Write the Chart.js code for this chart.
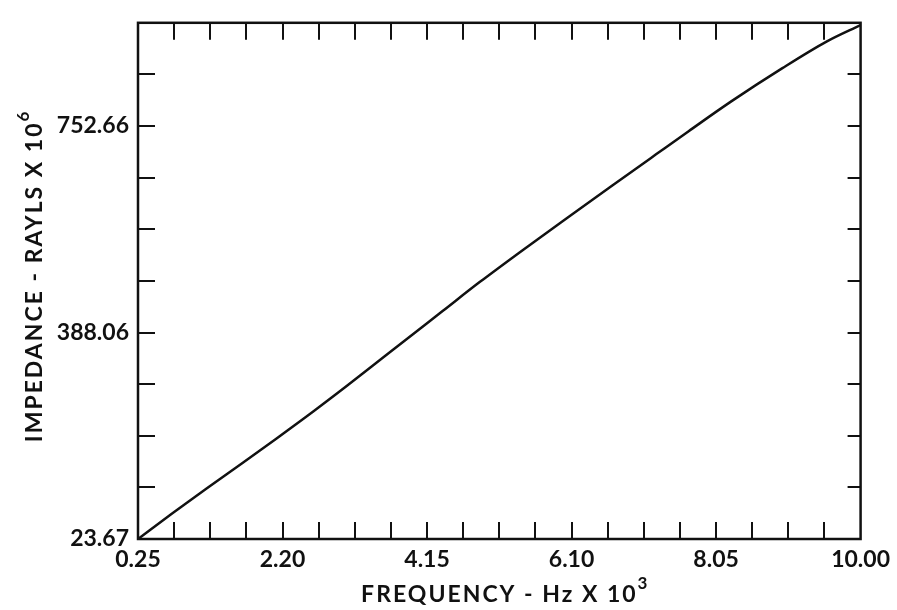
<!DOCTYPE html>
<html>
<head>
<meta charset="utf-8">
<title>Impedance vs Frequency</title>
<script src="https://cdn.jsdelivr.net/npm/chart.js@4.4.1/dist/chart.umd.min.js"></script>
<style>
  html, body { margin: 0; padding: 0; background: #fff; }
  canvas { display: block; }
</style>
</head>
<body>
<canvas id="chart" width="897" height="610"></canvas>
<script>
  // Impedance curve
  const frequency = [0.25, 0.71, 1.18, 1.66, 2.12, 2.61, 3.07, 3.60, 4.36, 4.86, 5.44, 6.11, 6.65, 7.24, 7.68, 8.26, 8.94, 9.54, 10.00];
  const impedance = [23.67, 68.5, 113.2, 157.9, 201.2, 248.3, 294.1, 348.4, 426.1, 477.2, 533.6, 597.0, 647.7, 702.7, 743.6, 796.6, 854.4, 901.7, 931.0];

  // Labelled ticks (each labelled interval has 4 minor divisions)
  const xTickLabels = ['0.25', '2.20', '4.15', '6.10', '8.05', '10.00'];
  const yTickLabels = ['23.67', '388.06', '752.66'];
  const DIVS = 4;
  const Y_INTERVALS = 10;

  const INK = '#111';
  const FONT = 'Lato, "DejaVu Sans", sans-serif';

  // tick positions from the labelled values
  const xStep = (Number(xTickLabels[1]) - Number(xTickLabels[0])) / DIVS;
  const xTicks = [];
  for (let i = 0; i <= (xTickLabels.length - 1) * DIVS; i++) xTicks.push(Number(xTickLabels[0]) + i * xStep);
  const yStep = (Number(yTickLabels[2]) - Number(yTickLabels[0])) / (2 * DIVS);
  const yTicks = [];
  for (let i = 0; i <= Y_INTERVALS; i++) yTicks.push(Number(yTickLabels[0]) + i * yStep);

  // Frame, inward ticks on all four sides, and axis titles with superscripts
  const framePlugin = {
    id: 'frame',
    afterDraw(chart) {
      const ctx = chart.ctx;
      const { left, right, top, bottom } = chart.chartArea;
      const xs = chart.scales.x, ys = chart.scales.y;

      ctx.save();
      ctx.strokeStyle = INK;
      ctx.lineCap = 'butt';

      ctx.lineWidth = 2;
      ctx.beginPath();
      xTicks.slice(1, -1).forEach(v => {
        const px = Math.round(xs.getPixelForValue(v));
        ctx.moveTo(px, bottom); ctx.lineTo(px, bottom - 17);
        ctx.moveTo(px, top); ctx.lineTo(px, top + 17);
      });
      yTicks.slice(1, -1).forEach(v => {
        const py = Math.round(ys.getPixelForValue(v));
        ctx.moveTo(left, py); ctx.lineTo(left + 17, py);
        ctx.moveTo(right, py); ctx.lineTo(right - 13, py);
      });
      ctx.stroke();

      ctx.lineWidth = 2.5;
      ctx.strokeRect(left, top, right - left, bottom - top);

      // axis titles
      ctx.fillStyle = INK;
      ctx.textBaseline = 'alphabetic';
      ctx.textAlign = 'left';
      const drawTitle = (main, sup) => {
        ctx.font = 'bold 23px ' + FONT;
        ctx.letterSpacing = '2px';
        const w1 = ctx.measureText(main).width;
        ctx.font = 'bold 17px ' + FONT;
        ctx.letterSpacing = '0px';
        const w2 = ctx.measureText(sup).width;
        const x0 = -(w1 + w2) / 2;
        ctx.font = 'bold 23px ' + FONT;
        ctx.letterSpacing = '2px';
        ctx.fillText(main, x0, 0);
        ctx.font = 'bold 17px ' + FONT;
        ctx.letterSpacing = '0px';
        ctx.fillText(sup, x0 + w1, -13);
      };

      ctx.save();
      ctx.translate((left + right) / 2 + 5, 602);
      drawTitle('FREQUENCY - Hz X 10', '3');
      ctx.restore();

      ctx.save();
      ctx.translate(42, (top + bottom) / 2 - 4);
      ctx.rotate(-Math.PI / 2);
      drawTitle('IMPEDANCE - RAYLS X 10', '6');
      ctx.restore();

      ctx.restore();
    }
  };

  new Chart(document.getElementById('chart'), {
    type: 'line',
    data: {
      datasets: [{
        data: frequency.map((f, i) => ({ x: f, y: impedance[i] })),
        borderColor: INK,
        borderWidth: 2.5,
        pointRadius: 0,
        cubicInterpolationMode: 'monotone',
        fill: false
      }]
    },
    options: {
      responsive: false,
      animation: false,
      layout: { padding: { top: 14, right: 35, left: 0, bottom: 0 } },
      plugins: {
        legend: { display: false },
        tooltip: { enabled: false }
      },
      scales: {
        x: {
          type: 'linear',
          min: xTicks[0],
          max: xTicks[xTicks.length - 1],
          afterBuildTicks: s => { s.ticks = xTicks.map(v => ({ value: v })); },
          afterFit: s => { s.height = 71; },
          grid: { display: false, drawTicks: false },
          border: { display: false },
          ticks: {
            autoSkip: false,
            maxRotation: 0,
            padding: 7,
            color: INK,
            font: { family: FONT, size: 23, weight: 'bold' },
            callback: (v, i) => (i % DIVS === 0 ? xTickLabels[i / DIVS] : '')
          }
        },
        y: {
          type: 'linear',
          min: yTicks[0],
          max: yTicks[yTicks.length - 1],
          afterBuildTicks: s => { s.ticks = yTicks.map(v => ({ value: v })); },
          afterFit: s => { s.width = 138; },
          grid: { display: false, drawTicks: false },
          border: { display: false },
          ticks: {
            autoSkip: false,
            padding: 9,
            color: INK,
            font: { family: FONT, size: 23, weight: 'bold' },
            callback: (v, i) => (i % DIVS === 0 && yTickLabels[i / DIVS] ? yTickLabels[i / DIVS] : '')
          }
        }
      }
    },
    plugins: [framePlugin]
  });
</script>
</body>
</html>
